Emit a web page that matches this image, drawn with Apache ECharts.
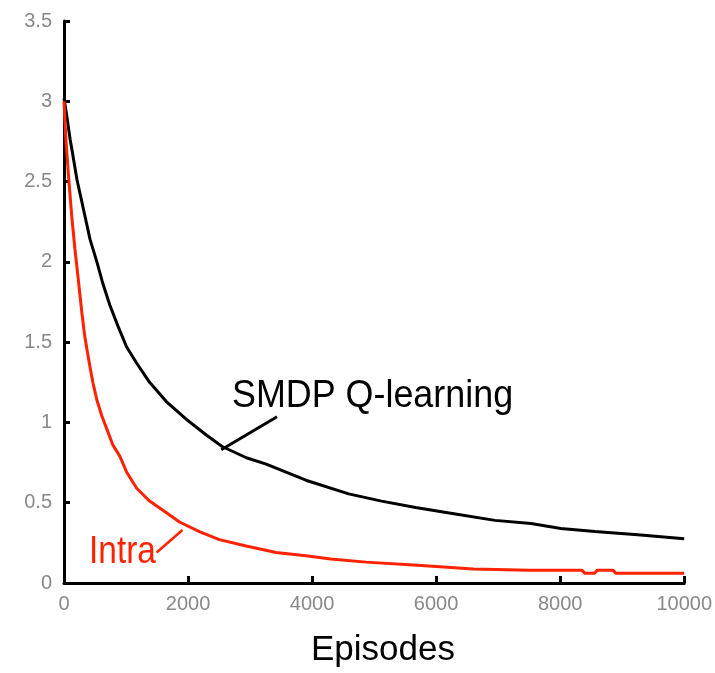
<!DOCTYPE html>
<html>
<head>
<meta charset="utf-8">
<script src="https://cdn.jsdelivr.net/npm/echarts@6/dist/echarts.min.js"></script>
<style>
html,body{margin:0;padding:0;background:#fff;}
#chart{width:715px;height:673px;}
</style>
</head>
<body>
<div id="chart"></div>
<script>
// ---- data ----
const smdpEpisodes = [0, 48, 100, 145, 210, 290, 420, 530, 630, 740, 870, 1010, 1170, 1380, 1650, 1970, 2300, 2550, 2940, 3260, 3580, 3900, 4590, 5120, 5670, 6310, 6950, 7530, 8010, 8560, 9250, 10000];
const smdpValues   = [3.02, 2.9, 2.76, 2.66, 2.51, 2.37, 2.14, 2.0, 1.86, 1.73, 1.6, 1.47, 1.37, 1.25, 1.13, 1.02, 0.92, 0.85, 0.78, 0.74, 0.69, 0.64, 0.555, 0.51, 0.47, 0.43, 0.39, 0.37, 0.34, 0.32, 0.30, 0.275];

const intraEpisodes = [0, 32, 80, 128, 176, 225, 289, 337, 417, 465, 530, 610, 690, 787, 899, 1011, 1172, 1380, 1589, 1862, 2183, 2504, 2937, 3419, 3900, 4300, 4870, 5700, 6600, 7500, 8350, 8400, 8550, 8600, 8850, 8900, 10000];
const intraValues   = [3.0, 2.75, 2.5, 2.27, 2.08, 1.91, 1.68, 1.53, 1.35, 1.25, 1.14, 1.04, 0.96, 0.86, 0.79, 0.69, 0.59, 0.51, 0.455, 0.38, 0.32, 0.27, 0.23, 0.19, 0.17, 0.15, 0.13, 0.11, 0.087, 0.08, 0.08, 0.06, 0.06, 0.08, 0.08, 0.06, 0.06];

const xTicks = [0, 2000, 4000, 6000, 8000, 10000];
const yTicks = [0, 0.5, 1, 1.5, 2, 2.5, 3, 3.5];

// annotation leader lines (data coordinates)
const smdpLeader  = [[2536, 0.83], [3435, 1.035]];
const intraLeader = [[1493, 0.19], [1910, 0.33]];

const seriesLabels = ['SMDP Q-learning', 'Intra'];
const xTitle = 'Episodes';

const FONT = '"Liberation Sans", Arial, Helvetica, sans-serif';
const RED = '#ff2200';

const zip = (a, b) => a.map((v, i) => [v, b[i]]);

const chart = echarts.init(document.getElementById('chart'), null, {renderer: 'canvas'});
chart.setOption({
  animation: false,
  backgroundColor: '#fff',
  grid: {left: 64, right: 28, top: 21, bottom: 90, containLabel: false},
  xAxis: {
    type: 'value', min: xTicks[0], max: xTicks[xTicks.length - 1], interval: 2000,
    axisLine: {show: true, lineStyle: {color: '#000', width: 3}},
    axisTick: {show: true, inside: true, length: 7, lineStyle: {color: '#000', width: 3}},
    axisLabel: {color: '#888', fontSize: 20, fontFamily: FONT, margin: 11, formatter: v => String(v)},
    splitLine: {show: false}
  },
  yAxis: {
    type: 'value', min: yTicks[0], max: yTicks[yTicks.length - 1], interval: 0.5,
    axisLine: {show: true, lineStyle: {color: '#000', width: 3}},
    axisTick: {show: true, inside: true, length: 6, lineStyle: {color: '#000', width: 3}},
    axisLabel: {color: '#888', fontSize: 20, fontFamily: FONT, margin: 12, formatter: v => String(v)},
    splitLine: {show: false}
  },
  series: [
    {
      name: seriesLabels[0], type: 'line', data: zip(smdpEpisodes, smdpValues),
      showSymbol: false, symbol: 'none', lineStyle: {color: '#000', width: 3}, z: 3,
      markLine: {
        silent: true, symbol: ['none', 'none'], label: {show: false},
        lineStyle: {color: '#000', width: 3, type: 'solid'},
        data: [[{coord: smdpLeader[0]}, {coord: smdpLeader[1]}]]
      }
    },
    {
      name: seriesLabels[1], type: 'line', data: zip(intraEpisodes, intraValues),
      showSymbol: false, symbol: 'none', lineStyle: {color: RED, width: 3}, z: 4,
      markLine: {
        silent: true, symbol: ['none', 'none'], label: {show: false},
        lineStyle: {color: RED, width: 2.5, type: 'solid'},
        data: [[{coord: intraLeader[0]}, {coord: intraLeader[1]}]]
      }
    }
  ],
  graphic: [
    {type: 'text', x: 232, y: 397, scaleX: 0.944, style: {text: seriesLabels[0], fill: '#000', font: '38px ' + FONT, textAlign: 'left', textVerticalAlign: 'middle'}},
    {type: 'text', x: 89, y: 553, scaleX: 0.88, style: {text: seriesLabels[1], fill: RED, font: '38px ' + FONT, textAlign: 'left', textVerticalAlign: 'middle'}},
    {type: 'text', x: 383, y: 650, style: {text: xTitle, fill: '#000', font: '35px ' + FONT, textAlign: 'center', textVerticalAlign: 'middle'}}
  ]
});
</script>
</body>
</html>
